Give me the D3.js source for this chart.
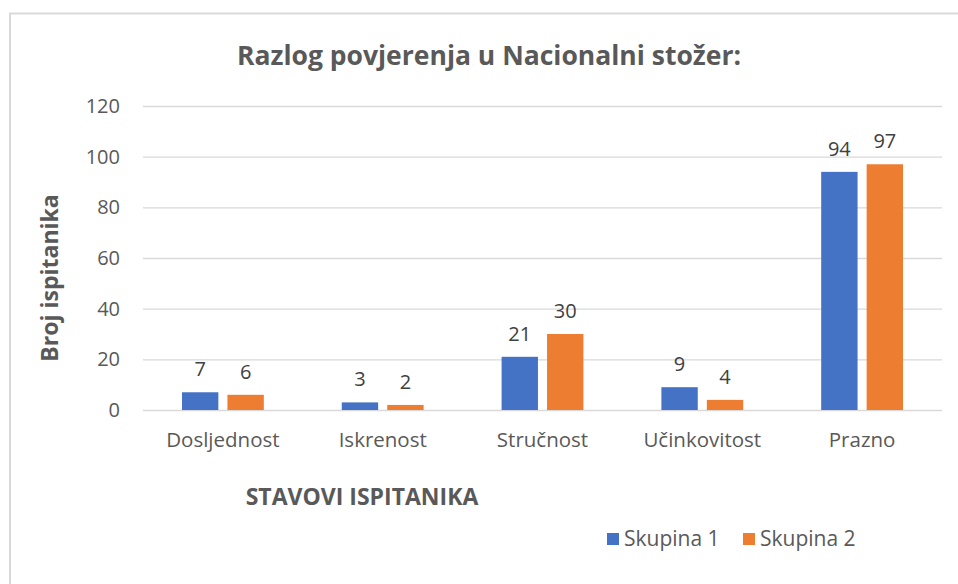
<!DOCTYPE html>
<html>
<head>
<meta charset="utf-8">
<script src="https://cdn.jsdelivr.net/npm/d3@7"></script>
<style>
  html, body { margin: 0; padding: 0; background: #fff; }
  svg { display: block; }
  text { font-family: "Open Sans", "Noto Sans", sans-serif; }
</style>
</head>
<body>
<svg id="chart" width="958" height="584"></svg>
<script>
// Chart data
const categories = ["Dosljednost", "Iskrenost", "Stručnost", "Učinkovitost", "Prazno"];
const seriesNames = ["Skupina 1", "Skupina 2"];
const skupina1 = [7, 3, 21, 9, 94];
const skupina2 = [6, 2, 30, 4, 97];
const yTicks = [0, 20, 40, 60, 80, 100, 120];
const colors = ["#4472C4", "#ED7D31"];

const svg = d3.select("#chart");
const W = 958, H = 584;
const plot = { left: 143, right: 942, top: 106, bottom: 410 };

// Chart frame (top and left edges visible)
svg.append("path")
  .attr("d", `M10,${H} L10,13.5 L${W},13.5`)
  .attr("fill", "none").attr("stroke", "#d9d9d9").attr("stroke-width", 2);

const x = d3.scaleBand().domain(categories).range([plot.left, plot.right]);
const x1 = d3.scaleBand().domain(seriesNames)
  .range([x.bandwidth() * 0.244, x.bandwidth() * 0.756]).paddingInner(0.2);
const y = d3.scaleLinear().domain([0, 120]).range([plot.bottom, plot.top]);

// Gridlines with value labels
const yAxis = d3.axisLeft(y).tickValues(yTicks).tickSize(-(plot.right - plot.left)).tickPadding(23);
const gy = svg.append("g").attr("transform", `translate(${plot.left},0)`).call(yAxis);
gy.select(".domain").remove();
gy.selectAll(".tick line").attr("stroke", "#d9d9d9").attr("stroke-width", 1.3);
gy.selectAll(".tick text").attr("fill", "#595959").style("font-size", "20px")
  .style("font-family", "'Open Sans', sans-serif");

// Category axis labels
const xAxis = d3.axisBottom(x).tickSize(0).tickPadding(22);
const gx = svg.append("g").attr("transform", `translate(0,${plot.bottom})`).call(xAxis);
gx.select(".domain").remove();
gx.selectAll(".tick text").attr("fill", "#595959").style("font-size", "20.5px")
  .style("font-family", "'Open Sans', sans-serif");

// Bars and value labels
const rows = categories.map((c, i) => ({ cat: c, vals: [skupina1[i], skupina2[i]] }));
const groups = svg.append("g").selectAll("g").data(rows).join("g")
  .attr("transform", d => `translate(${x(d.cat)},0)`);

const cells = d => d.vals.map((v, j) => ({ name: seriesNames[j], v, j }));

groups.selectAll("rect").data(cells).join("rect")
  .attr("x", d => x1(d.name))
  .attr("y", d => y(d.v))
  .attr("width", x1.bandwidth())
  .attr("height", d => plot.bottom - y(d.v))
  .attr("fill", d => colors[d.j]);

groups.selectAll("text.val").data(cells).join("text").attr("class", "val")
  .attr("x", d => x1(d.name) + x1.bandwidth() / 2)
  .attr("y", d => y(d.v) - 16)
  .attr("text-anchor", "middle")
  .attr("fill", "#404040")
  .style("font-size", "20px")
  .text(d => d.v);

// Title
svg.append("text")
  .attr("x", 489).attr("y", 65)
  .attr("text-anchor", "middle")
  .attr("fill", "#595959")
  .style("font-size", "26.5px").style("font-weight", "bold")
  .text("Razlog povjerenja u Nacionalni stožer:");

// Axis titles
svg.append("text")
  .attr("transform", "translate(58,278) rotate(-90)")
  .attr("text-anchor", "middle")
  .attr("fill", "#595959")
  .style("font-size", "23px").style("font-weight", "bold")
  .text("Broj ispitanika");

svg.append("text")
  .attr("x", 362).attr("y", 505)
  .attr("text-anchor", "middle")
  .attr("fill", "#595959")
  .style("font-size", "23px").style("font-weight", "bold")
  .text("STAVOVI ISPITANIKA");

// Legend
const legendX = [607, 743];
const legend = svg.append("g").selectAll("g").data(seriesNames).join("g")
  .attr("transform", (d, i) => `translate(${legendX[i]},533)`);
legend.append("rect").attr("width", 12).attr("height", 12).attr("fill", (d, i) => colors[i]);
legend.append("text").attr("x", 17).attr("y", 13)
  .attr("fill", "#595959").style("font-size", "21px").text(d => d);
</script>
</body>
</html>
